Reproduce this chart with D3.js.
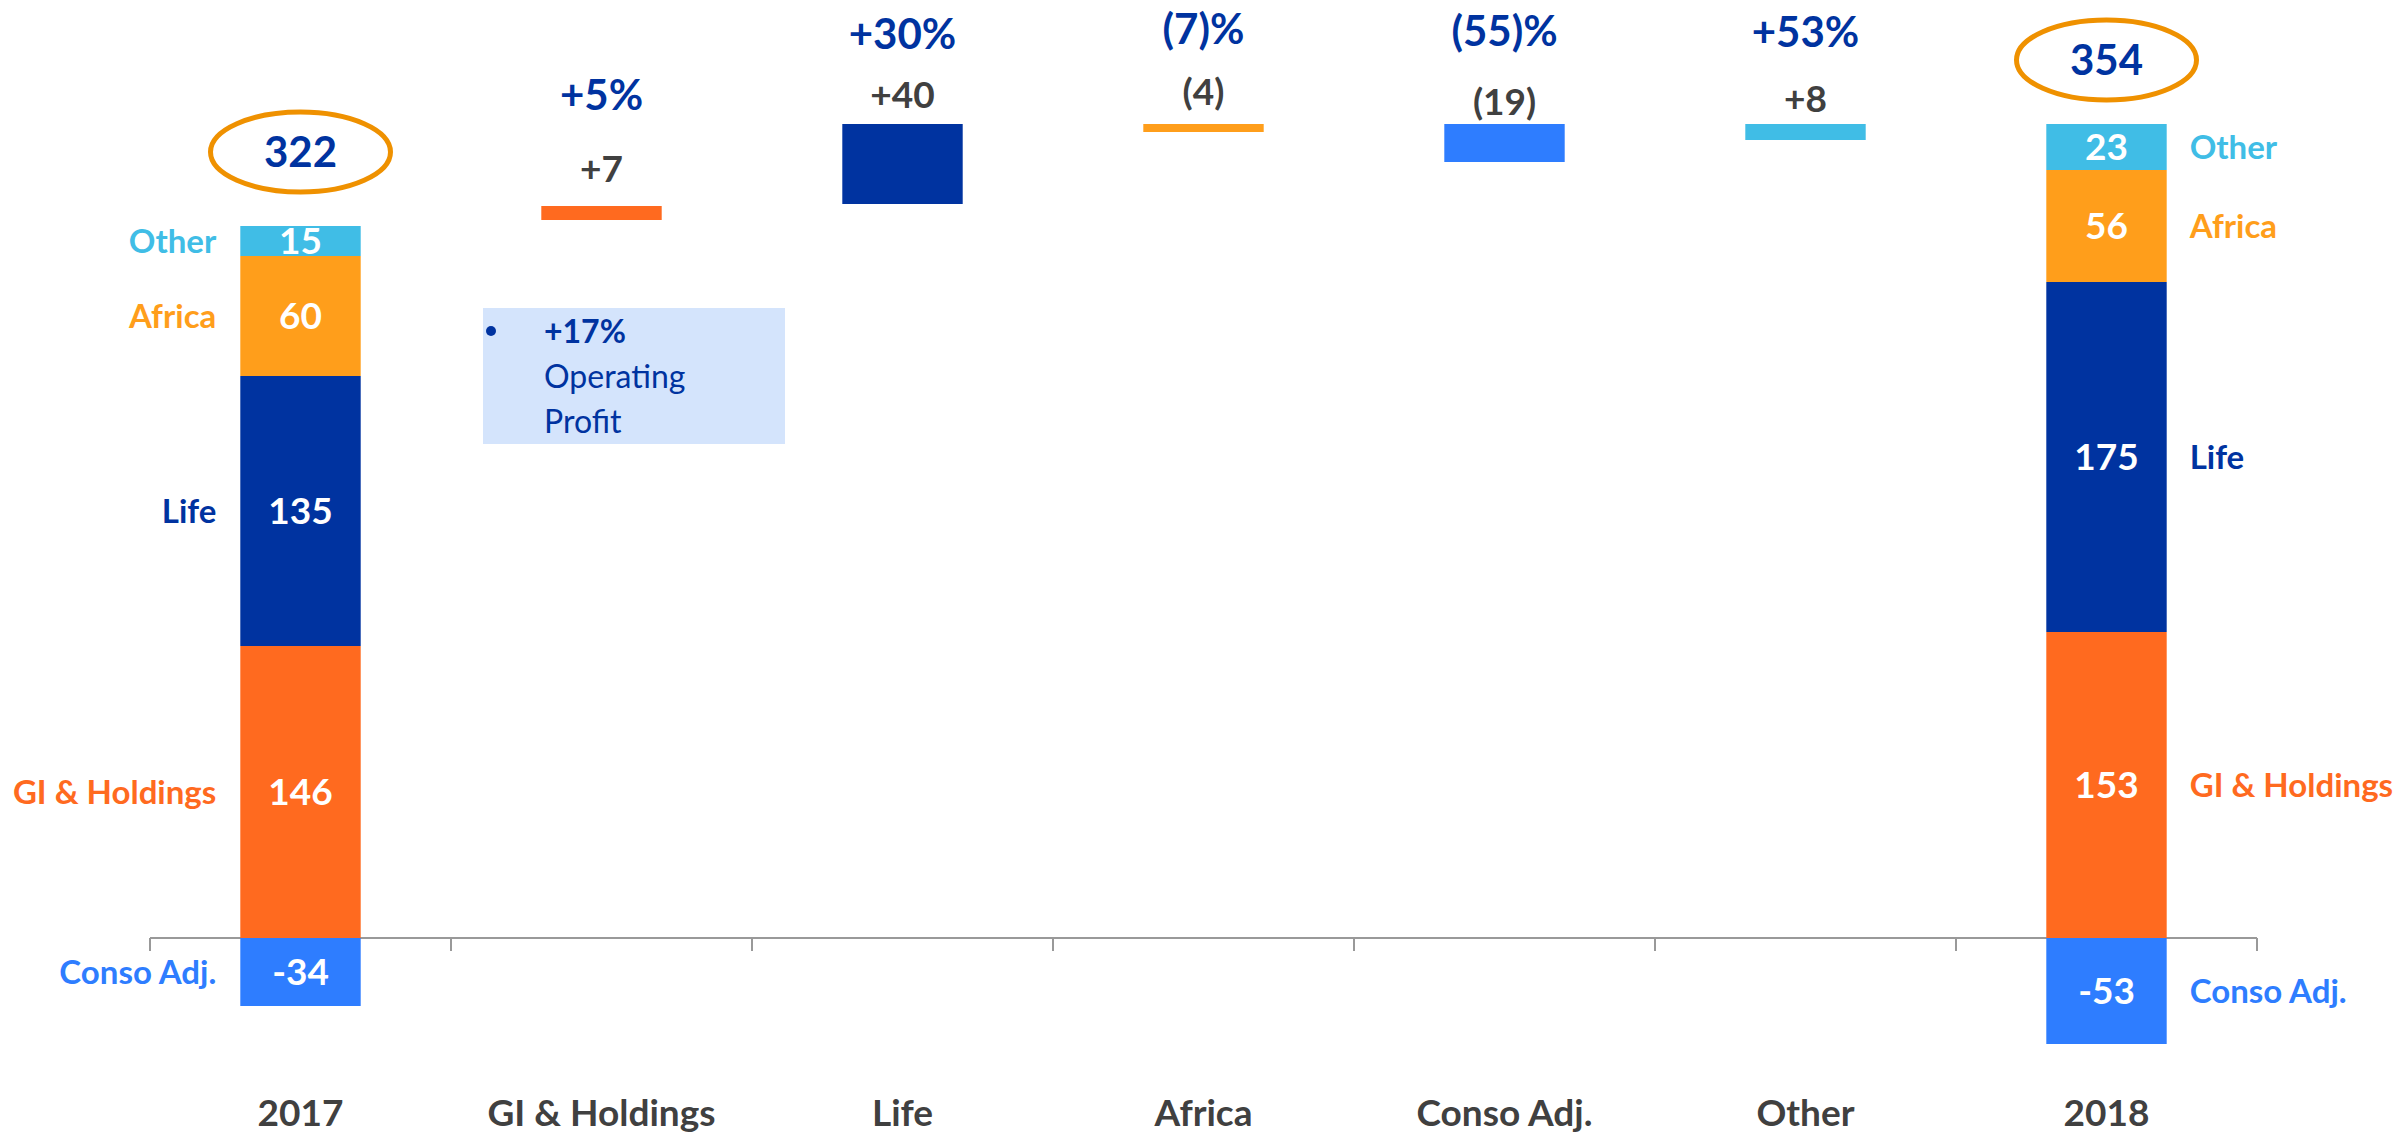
<!DOCTYPE html>
<html><head><meta charset="utf-8">
<script src="https://cdn.jsdelivr.net/npm/d3@7"></script>
<style>html,body{margin:0;padding:0;background:#fff;} svg{display:block;font-family:Lato,"Open Sans",sans-serif;}</style>
</head><body><svg id="chart" width="2408" height="1135"></svg>
<script>
// ---- data ----
const categories = ["2017","GI & Holdings","Life","Africa","Conso Adj.","Other","2018"];
const segmentNames = ["GI & Holdings","Life","Africa","Other","Conso Adj."];
const values2017 = [146,135,60,15,-34];
const values2018 = [153,175,56,23,-53];
const totalCategories = ["2017","2018"];
const totals = [322,354];
const deltaCategories = ["GI & Holdings","Life","Africa","Conso Adj.","Other"];
const deltaLabels = ["+7","+40","(4)","(19)","+8"];
const deltaPct = ["+5%","+30%","(7)%","(55)%","+53%"];
const deltaLow = [359,367,403,388,399];
const deltaHigh = [366,407,407,407,407];
const boxLines = ["+17%","Operating","Profit"];

// ---- styles / layout ----
const colors = {"GI & Holdings":"#FF6A1F","Life":"#0033A0","Africa":"#FF9E1B","Other":"#40BDE6","Conso Adj.":"#2E7DFF"};
const darkText = "#404040", navy = "#0033A0", ellipseColor = "#EF9100";
const deltaValueGap = [24,16,19,9,12];
const deltaPctGap = [96,75,80,78,77];
const ellipseGap = [74,64];

const svg = d3.select("#chart");
const x = d3.scaleBand().domain(categories).range([150,2257]).paddingInner(0.6).paddingOuter(0.3);
const y = d3.scaleLinear().domain([0,400]).range([938,138]);
const bw = x.bandwidth();

// stacked totals
const table = totalCategories.map((c,i)=>{
  const vals = i===0?values2017:values2018;
  const row = {cat:c};
  segmentNames.forEach((k,j)=>row[k]=vals[j]);
  return row;
});
const series = d3.stack().keys(segmentNames).offset(d3.stackOffsetDiverging)(table);

const gBars = svg.append("g");
series.forEach(s=>{
  s.forEach(d=>{
    const x0 = x(d.data.cat);
    const top = y(Math.max(d[0],d[1])), bot = y(Math.min(d[0],d[1]));
    gBars.append("rect").attr("x",x0).attr("width",bw).attr("y",top).attr("height",bot-top).attr("fill",colors[s.key]);
    const mid = (top+bot)/2;
    gBars.append("text").attr("x",x0+bw/2).attr("y",mid).attr("dy","0.36em")
      .attr("text-anchor","middle").attr("fill","#fff").attr("font-weight",700).attr("font-size",37)
      .text(d.data[s.key]);
    const is2017 = d.data.cat===totalCategories[0];
    gBars.append("text")
      .attr("x", is2017 ? x0-24 : x0+bw+23)
      .attr("y",mid).attr("dy","0.36em")
      .attr("text-anchor", is2017 ? "end" : "start")
      .attr("fill",colors[s.key]).attr("font-weight",700).attr("font-size",33)
      .text(s.key);
  });
});

// totals ellipses
totalCategories.forEach((c,i)=>{
  const topVal = d3.sum((i===0?values2017:values2018).filter(v=>v>0));
  const cx = x(c)+bw/2, cy = y(topVal)-ellipseGap[i];
  svg.append("ellipse").attr("cx",cx).attr("cy",cy).attr("rx",90).attr("ry",40)
    .attr("fill","none").attr("stroke",ellipseColor).attr("stroke-width",5);
  svg.append("text").attr("x",cx).attr("y",cy).attr("dy","0.36em").attr("text-anchor","middle")
    .attr("fill",navy).attr("font-weight",700).attr("font-size",42).text(totals[i]);
});

// delta bars
deltaCategories.forEach((c,i)=>{
  const x0 = x(c);
  const top = y(deltaHigh[i]), bot = y(deltaLow[i]);
  svg.append("rect").attr("x",x0).attr("width",bw).attr("y",top).attr("height",bot-top).attr("fill",colors[c]);
  svg.append("text").attr("x",x0+bw/2).attr("y",top-deltaValueGap[i]).attr("text-anchor","middle")
    .attr("fill",darkText).attr("font-weight",700).attr("font-size",37).text(deltaLabels[i]);
  svg.append("text").attr("x",x0+bw/2).attr("y",top-deltaPctGap[i]).attr("text-anchor","middle")
    .attr("fill",navy).attr("font-weight",700).attr("font-size",42).text(deltaPct[i]);
});

// axis
const axisG = svg.append("g").attr("transform",`translate(0,${y(0)})`);
axisG.call(d3.axisBottom(x).tickSizeInner(0).tickSizeOuter(0).tickPadding(162));
axisG.select(".domain").remove();
axisG.selectAll("text").attr("font-family","Lato,'Open Sans',sans-serif").attr("font-size",37)
  .attr("font-weight",700).attr("fill",darkText);
const [r0,r1] = x.range();
axisG.append("line").attr("x1",r0).attr("x2",r1).attr("y1",0).attr("y2",0).attr("stroke","#999").attr("stroke-width",2);
d3.range(categories.length+1).forEach(i=>{
  const bx = r0 + i*x.step();
  axisG.append("line").attr("x1",bx).attr("x2",bx).attr("y1",0).attr("y2",13).attr("stroke","#999").attr("stroke-width",2);
});
axisG.lower();

// annotation box
const box = svg.append("g");
box.append("rect").attr("x",483).attr("y",308).attr("width",302).attr("height",136).attr("fill","#D4E4FC");
box.append("circle").attr("cx",491).attr("cy",331).attr("r",5).attr("fill",navy);
boxLines.forEach((t,i)=>{
  box.append("text").attr("x",544).attr("y",343+i*45).attr("fill",navy)
    .attr("font-size",32).attr("font-weight",i===0?700:400).text(t);
});
</script></body></html>
